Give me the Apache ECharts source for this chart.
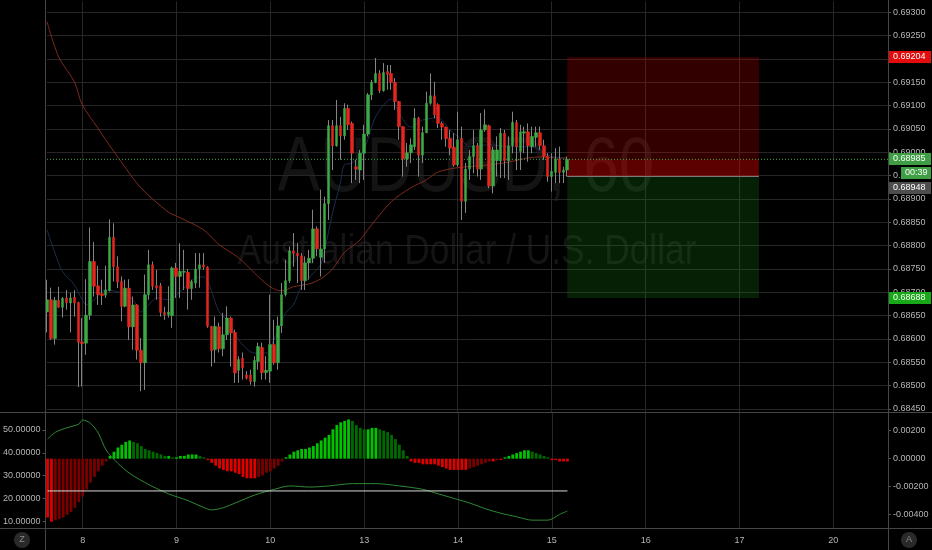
<!DOCTYPE html>
<html><head><meta charset="utf-8">
<script src="https://cdn.jsdelivr.net/npm/echarts@6/dist/echarts.min.js"></script>
<style>html,body{margin:0;padding:0;background:#000;}#c{width:932px;height:550px;}</style>
</head><body><div id="c"></div>
<script>
// ---------- data ----------
const dayLabels = ['8','9','10','13','14','15','16','17','20'];
const firstDayIndex = 9, barsPerDay = 24, totalSlots = 216;

const open = [0.68658,0.68684,0.68601,0.68683,0.68668,0.68688,0.68677,0.68689,0.68678,0.68594,
0.68591,0.68651,0.68766,0.68714,0.68697,0.68694,0.68704,0.68818,0.68755,0.68723,
0.68670,0.68709,0.68626,0.68673,0.68576,0.68549,0.68695,0.68759,0.68714,0.68714,
0.68657,0.68652,0.68650,0.68752,0.68734,0.68743,0.68743,0.68708,0.68720,0.68750,
0.68759,0.68754,0.68627,0.68577,0.68626,0.68579,0.68609,0.68645,0.68614,0.68533,
0.68559,0.68523,0.68523,0.68509,0.68552,0.68582,0.68528,0.68531,0.68588,0.68549,
0.68628,0.68695,0.68725,0.68789,0.68784,0.68778,0.68725,0.68763,0.68773,0.68836,
0.68775,0.68793,0.68890,0.69057,0.69014,0.69057,0.69035,0.69094,0.69062,0.68969,
0.68962,0.68998,0.69039,0.69123,0.69150,0.69169,0.69132,0.69173,0.69169,0.69150,
0.69109,0.69055,0.68986,0.68999,0.69012,0.69073,0.68994,0.69042,0.69105,0.69121,
0.69102,0.69062,0.69054,0.69030,0.69011,0.68973,0.69030,0.68895,0.68964,0.68991,
0.69014,0.68964,0.69048,0.69057,0.68928,0.68982,0.68982,0.69041,0.68982,0.69014,
0.69064,0.69002,0.69041,0.69044,0.69012,0.69032,0.69042,0.69014,0.68992,0.68948,
0.68957,0.68985,0.68957,0.68962];
const close = [0.68684,0.68601,0.68683,0.68668,0.68687,0.68678,0.68688,0.68677,0.68593,0.68590,
0.68651,0.68766,0.68713,0.68695,0.68693,0.68705,0.68818,0.68755,0.68722,0.68670,
0.68709,0.68626,0.68673,0.68576,0.68549,0.68695,0.68759,0.68713,0.68709,0.68657,
0.68652,0.68658,0.68752,0.68734,0.68745,0.68745,0.68708,0.68723,0.68750,0.68759,
0.68754,0.68627,0.68575,0.68627,0.68579,0.68609,0.68645,0.68613,0.68527,0.68556,
0.68538,0.68516,0.68509,0.68554,0.68584,0.68528,0.68533,0.68588,0.68549,0.68628,
0.68695,0.68725,0.68789,0.68784,0.68778,0.68725,0.68763,0.68773,0.68836,0.68793,
0.68793,0.68890,0.69057,0.69014,0.69057,0.69035,0.69094,0.69059,0.68998,0.68964,
0.68998,0.69039,0.69123,0.69150,0.69169,0.69132,0.69171,0.69167,0.69150,0.69109,
0.69055,0.68986,0.68999,0.69016,0.69073,0.68994,0.69042,0.69105,0.69121,0.69080,
0.69062,0.69054,0.69029,0.69009,0.68973,0.69027,0.68895,0.68964,0.68991,0.69014,
0.68964,0.69048,0.69059,0.68928,0.69005,0.69005,0.69041,0.68982,0.69014,0.69064,
0.69012,0.69044,0.69044,0.69014,0.69034,0.69042,0.69014,0.68991,0.68948,0.68959,
0.68985,0.68957,0.68962,0.68985];
const high = [0.68727,0.68710,0.68690,0.68712,0.68690,0.68705,0.68699,0.68705,0.68680,0.68645,
0.68728,0.68839,0.68808,0.68757,0.68727,0.68757,0.68856,0.68848,0.68777,0.68734,
0.68727,0.68728,0.68691,0.68675,0.68602,0.68738,0.68791,0.68766,0.68748,0.68720,
0.68669,0.68713,0.68755,0.68763,0.68805,0.68791,0.68750,0.68727,0.68784,0.68784,
0.68784,0.68756,0.68628,0.68648,0.68635,0.68656,0.68670,0.68648,0.68620,0.68563,
0.68571,0.68531,0.68534,0.68563,0.68592,0.68592,0.68563,0.68695,0.68641,0.68648,
0.68720,0.68770,0.68798,0.68827,0.68806,0.68784,0.68777,0.68791,0.68877,0.68841,
0.68920,0.68905,0.69069,0.69069,0.69112,0.69076,0.69105,0.69102,0.69066,0.68984,
0.69005,0.69059,0.69127,0.69155,0.69202,0.69176,0.69191,0.69187,0.69187,0.69159,
0.69110,0.69056,0.69020,0.69030,0.69094,0.69076,0.69055,0.69130,0.69169,0.69151,
0.69105,0.69066,0.69055,0.69048,0.69041,0.69087,0.69055,0.68977,0.69005,0.69048,
0.69020,0.69084,0.69092,0.69059,0.69012,0.69034,0.69052,0.69048,0.69034,0.69087,
0.69069,0.69059,0.69055,0.69062,0.69055,0.69055,0.69055,0.69027,0.68998,0.68998,
0.69009,0.69012,0.68969,0.68991];
const low = [0.68614,0.68598,0.68588,0.68667,0.68646,0.68663,0.68614,0.68648,0.68497,0.68498,
0.68566,0.68641,0.68691,0.68673,0.68673,0.68688,0.68702,0.68723,0.68709,0.68638,
0.68668,0.68598,0.68577,0.68556,0.68488,0.68491,0.68684,0.68705,0.68684,0.68648,
0.68641,0.68646,0.68624,0.68688,0.68688,0.68705,0.68663,0.68684,0.68709,0.68710,
0.68748,0.68624,0.68541,0.68549,0.68571,0.68563,0.68598,0.68541,0.68506,0.68506,
0.68513,0.68513,0.68502,0.68498,0.68534,0.68513,0.68513,0.68506,0.68545,0.68534,
0.68613,0.68691,0.68720,0.68755,0.68720,0.68705,0.68705,0.68727,0.68763,0.68777,
0.68734,0.68763,0.68855,0.68962,0.69012,0.68984,0.69027,0.69048,0.68934,0.68941,
0.68934,0.68941,0.69034,0.69112,0.69148,0.69127,0.69130,0.69134,0.69134,0.69091,
0.69027,0.68948,0.68969,0.68977,0.69005,0.68948,0.68977,0.69041,0.69102,0.69073,
0.69052,0.69027,0.69012,0.68994,0.68969,0.68969,0.68855,0.68870,0.68941,0.68955,
0.68948,0.68941,0.69044,0.68923,0.68912,0.68948,0.68945,0.68945,0.68941,0.68998,
0.68962,0.68962,0.68998,0.68980,0.68998,0.69012,0.69005,0.68984,0.68937,0.68916,
0.68934,0.68934,0.68934,0.68948];

// moving averages: [bar index, price]
const maFast = [[0,0.68834],[2,0.68785],[4,0.68744],[7,0.68716],[9,0.68684],[10,0.68673],[12,0.68684],[15,0.68705],[19,0.68699],[22,0.68684],[24,0.68658],[26,0.68673],[28,0.68688],[31,0.68684],[34,0.68701],[38,0.68731],[40,0.68733],[44,0.68658],[46,0.68641],[49,0.68598],[53,0.68570],[56,0.68570],[58,0.68598],[61,0.68656],[63,0.68673],[65,0.68712],[68,0.68740],[70,0.68760],[71,0.68791],[73,0.68870],[75,0.68934],[76,0.68973],[78,0.68977],[81,0.69005],[84,0.69076],[88,0.69114],[90,0.69084],[93,0.69054],[96,0.69069],[100,0.69074],[103,0.69048],[106,0.69027],[108,0.69012],[113,0.69016],[118,0.69012],[124,0.69012],[128,0.68994],[131,0.68988],[133,0.68984]];
const maSlow = [[0,0.69280],[3,0.69204],[7,0.69151],[9,0.69102],[13,0.69052],[15,0.69027],[19,0.68979],[24,0.68924],[31,0.68872],[34,0.68860],[40,0.68834],[44,0.68802],[49,0.68774],[53,0.68742],[57,0.68712],[60,0.68703],[63,0.68712],[67,0.68718],[70,0.68729],[73,0.68750],[76,0.68785],[80,0.68812],[82,0.68834],[88,0.68894],[93,0.68924],[97,0.68941],[100,0.68958],[105,0.68967],[113,0.68973],[118,0.68979],[123,0.68988],[126,0.68990],[130,0.68988],[133,0.68988]];

// lower pane
const histogram = [-0.0042,-0.0045,-0.0044,-0.0043,-0.0042,-0.0040,-0.0038,-0.0035,-0.0031,-0.0027,
-0.0022,-0.0017,-0.0013,-0.0009,-0.0005,-0.0002,0.0002,0.0005,0.0008,0.0010,
0.0012,0.0013,0.0012,0.0011,0.0009,0.0007,0.0006,0.0005,0.0004,0.0003,
0.0002,0.0002,0.0001,0.0001,0.0002,0.0002,0.0003,0.0003,0.0003,0.0002,
0.0001,-0.0001,-0.0003,-0.0005,-0.0007,-0.0008,-0.0009,-0.0009,-0.0010,-0.0011,
-0.0013,-0.0014,-0.0014,-0.0014,-0.0013,-0.0012,-0.0010,-0.0009,-0.0007,-0.0005,
-0.0002,0.0001,0.0003,0.0005,0.0006,0.0007,0.0007,0.0008,0.0009,0.0011,
0.0013,0.0015,0.0017,0.0021,0.0024,0.0026,0.0027,0.0028,0.0027,0.0024,
0.0022,0.0021,0.0021,0.0022,0.0022,0.0021,0.0020,0.0019,0.0017,0.0014,
0.0010,0.0006,0.0002,-0.0002,-0.0003,-0.0003,-0.0004,-0.0004,-0.0004,-0.0004,
-0.0005,-0.0006,-0.0007,-0.0008,-0.0008,-0.0008,-0.0008,-0.0008,-0.0007,-0.0006,
-0.0005,-0.0004,-0.0003,-0.0002,-0.0002,-0.0001,-0.0001,0.0001,0.0002,0.0003,
0.0004,0.0005,0.0006,0.0006,0.0005,0.0004,0.0003,0.0002,0.0001,-0.0001,
-0.0001,-0.0002,-0.0002,-0.0002];
const oscLine = [[0,46],[2,49],[5,51],[8,52.6],[9,54.4],[11,52.9],[13,48.6],[15,41.2],[18,35.4],[21,31],[26,26],[31,22],[36,19],[40,16],[42,15],[45,16],[48,18],[53,21.5],[58,24],[62,25.5],[67,25],[72,25.5],[78,26.5],[84,26.5],[90,25.5],[96,24],[100,22],[104,20],[108,18],[112,15.5],[116,13.5],[120,12],[124,10.5],[128,10.5],[131,13],[133,14.5]];
const oscLevel = 23.3;

// position tool
const stopPrice = 0.69204, entryPrice = 0.68948, targetPrice = 0.68688;
const positionStart = 133, positionEnd = 182;
const countdown = '00:39';

// ---------- build ----------
const GREEN = '#3dab45', RED = '#e5261f', WICK = '#858585';
const TXT = '#b6b6b6', GRID = '#262626';
const FONT = 'Liberation Sans';
const dayAt = {};
dayLabels.forEach((d, i) => { dayAt[firstDayIndex + i * barsPerDay] = d; });
const categories = [];
for (let i = 0; i < totalSlots; i++) categories.push('h' + i);
const isDay = (idx) => dayAt[idx] !== undefined;

const wickData = open.map((o, i) => [o, close[i], low[i], high[i]]);
const bodyData = open.map((o, i) => [o, close[i], Math.min(o, close[i]), Math.max(o, close[i])]);
const lastClose = close[close.length - 1];

const histData = histogram.map((v, i) => {
  const prev = i > 0 ? histogram[i - 1] : v;
  let c;
  if (v >= 0) c = (i === 0 || v >= prev) ? '#00c400' : '#006a00';
  else c = (i === 0 || v <= prev) ? '#e00000' : '#7a0000';
  return { value: v, itemStyle: { color: c } };
});

const fmt5 = (v) => Number(v).toFixed(5);
const xBase = (gi, showLabels) => ({
  type: 'category', gridIndex: gi, data: categories, boundaryGap: false,
  axisLine: { show: false }, axisTick: { show: false },
  axisLabel: { show: showLabels, interval: (i) => isDay(i), formatter: (v, i) => dayAt[i] || '',
               color: TXT, fontSize: 9, fontFamily: FONT, margin: 8 },
  splitLine: { show: true, interval: (i) => isDay(i), lineStyle: { color: GRID, width: 1 } }
});

const option = {
  backgroundColor: '#000',
  animation: false,
  grid: [
    { left: 47, width: 841, top: 0, height: 412 },
    { left: 47, width: 841, top: 412, height: 116 }
  ],
  xAxis: [ xBase(0, false), xBase(1, true) ],
  yAxis: [
    { type: 'value', gridIndex: 0, position: 'right', min: 0.684436, max: 0.693263, splitNumber: 17,
      axisLine: { show: false }, axisTick: { show: true, length: 3, lineStyle: { color: '#555' } },
      axisLabel: { formatter: fmt5, color: TXT, fontSize: 9, fontFamily: FONT, margin: 5, showMinLabel: false, showMaxLabel: false },
      splitLine: { show: true, lineStyle: { color: GRID, width: 1 } } },
    { type: 'value', gridIndex: 1, position: 'left', offset: 2, min: 7.06, max: 57.89, splitNumber: 5,
      axisLine: { show: false }, axisTick: { show: true, length: 3, lineStyle: { color: '#555' } },
      axisLabel: { formatter: fmt5, color: TXT, fontSize: 9, fontFamily: FONT, margin: 5, showMinLabel: false, showMaxLabel: false },
      splitLine: { show: false } },
    { type: 'value', gridIndex: 1, position: 'right', min: -0.00495, max: 0.003336, splitNumber: 4,
      axisLine: { show: false }, axisTick: { show: true, length: 3, lineStyle: { color: '#555' } },
      axisLabel: { formatter: fmt5, color: TXT, fontSize: 9, fontFamily: FONT, margin: 5, showMinLabel: false, showMaxLabel: false },
      splitLine: { show: false } }
  ],
  series: [
    { type: 'line', xAxisIndex: 0, yAxisIndex: 0, data: maSlow, showSymbol: false, smooth: 0.3, z: 1,
      lineStyle: { color: '#7d2a1c', width: 1 } },
    { type: 'line', xAxisIndex: 0, yAxisIndex: 0, data: maFast, showSymbol: false, smooth: 0.3, z: 1,
      lineStyle: { color: '#1b2c4e', width: 1 } },
    { type: 'line', xAxisIndex: 0, yAxisIndex: 0, data: [[0, lastClose], [totalSlots - 1, lastClose]], showSymbol: false, z: 2,
      lineStyle: { color: '#3dab45', type: [1, 2], width: 1 } },
    { type: 'candlestick', name: 'wick', xAxisIndex: 0, yAxisIndex: 0, data: wickData, barWidth: 0.5, clip: false, z: 3,
      itemStyle: { color: WICK, color0: WICK, borderColor: WICK, borderColor0: WICK, borderWidth: 1 } },
    { type: 'candlestick', name: 'body', xAxisIndex: 0, yAxisIndex: 0, data: bodyData, barWidth: 3, clip: false, z: 4,
      itemStyle: { color: GREEN, color0: RED, borderColor: GREEN, borderColor0: RED, borderWidth: 0.5 },
      markLine: { silent: true, symbol: ['none', 'none'], label: { show: false }, animation: false,
        data: [
          [ { coord: [positionStart, entryPrice], lineStyle: { color: '#7a7a7a', type: 'solid', width: 1 } },
            { coord: [positionEnd, entryPrice] } ]
        ] },
      markArea: { silent: true,
        data: [
          [ { coord: [positionStart, stopPrice], itemStyle: { color: 'rgba(255,0,0,0.2)' } }, { coord: [positionEnd, lastClose] } ],
          [ { coord: [positionStart, lastClose], itemStyle: { color: 'rgba(255,0,0,0.36)' } }, { coord: [positionEnd, entryPrice] } ],
          [ { coord: [positionStart, entryPrice], itemStyle: { color: 'rgba(20,140,20,0.23)' } }, { coord: [positionEnd, targetPrice] } ]
        ] } },
    { type: 'bar', xAxisIndex: 1, yAxisIndex: 2, data: histData, barWidth: 2.8, z: 2 },
    { type: 'line', xAxisIndex: 1, yAxisIndex: 1, data: oscLine, showSymbol: false, smooth: 0.3, z: 3,
      lineStyle: { color: '#2f8a34', width: 1 } },
    { type: 'line', xAxisIndex: 1, yAxisIndex: 1, data: [[0, oscLevel], [open.length - 1, oscLevel]], showSymbol: false, z: 3,
      lineStyle: { color: '#d8d8d8', width: 1 } }
  ]
};

const chart = echarts.init(document.getElementById('c'), null, { renderer: 'canvas' });
chart.setOption(option);

const yPix = (p) => chart.convertToPixel({ yAxisIndex: 0 }, p);
function tag(yc, text, bg, x, w) {
  return { type: 'group', z: 100, children: [
    { type: 'rect', shape: { x: x, y: Math.round(yc) - 6, width: w, height: 12 }, style: { fill: bg }, z: 100 },
    { type: 'text', x: x + 4, y: Math.round(yc), z: 101,
      style: { text: text, fill: '#ffffff', font: '9px "' + FONT + '"', verticalAlign: 'middle', align: 'left' } }
  ] };
}
const lineCol = '#454545';
const graphics = [
  { type: 'text', x: 466, y: 169, scaleX: 0.82, z: -1,
    style: { text: 'AUDUSD, 60', fill: '#141414', font: '78px "' + FONT + '"', align: 'center', verticalAlign: 'middle' } },
  { type: 'text', x: 467, y: 252, scaleX: 0.84, z: -1,
    style: { text: 'Australian Dollar / U.S. Dollar', fill: '#141414', font: '42px "' + FONT + '"', align: 'center', verticalAlign: 'middle' } },
  { type: 'rect', shape: { x: 46, y: 0, width: 842, height: 1.5 }, style: { fill: '#000' }, z: 90 },
  { type: 'rect', shape: { x: 889, y: 412.5, width: 43, height: 7 }, style: { fill: '#000' }, z: 90 },
  { type: 'line', shape: { x1: 0, y1: 412.5, x2: 932, y2: 412.5 }, style: { stroke: lineCol, lineWidth: 1 }, z: 95 },
  { type: 'line', shape: { x1: 0, y1: 528.5, x2: 932, y2: 528.5 }, style: { stroke: lineCol, lineWidth: 1 }, z: 95 },
  { type: 'line', shape: { x1: 45.5, y1: 0, x2: 45.5, y2: 550 }, style: { stroke: lineCol, lineWidth: 1 }, z: 95 },
  { type: 'line', shape: { x1: 888.5, y1: 0, x2: 888.5, y2: 550 }, style: { stroke: lineCol, lineWidth: 1 }, z: 95 },
  tag(yPix(stopPrice), fmt5(stopPrice), '#e30b0b', 889, 42),
  tag(yPix(lastClose), fmt5(lastClose), '#3e9e44', 889, 42),
  tag(yPix(lastClose) + 14, countdown, '#3e9e44', 901, 30),
  tag(yPix(entryPrice) + 11, fmt5(entryPrice), '#4d4d4d', 889, 42),
  tag(yPix(targetPrice), fmt5(targetPrice), '#17a917', 889, 42),
  { type: 'circle', shape: { cx: 22, cy: 540, r: 8 }, style: { fill: '#2a2a2a' }, z: 100 },
  { type: 'text', x: 22, y: 540, z: 101, style: { text: 'Z', fill: '#8a8a8a', font: '9px "' + FONT + '"', align: 'center', verticalAlign: 'middle' } },
  { type: 'circle', shape: { cx: 909, cy: 540, r: 8 }, style: { fill: '#2a2a2a' }, z: 100 },
  { type: 'text', x: 909, y: 540, z: 101, style: { text: 'A', fill: '#8a8a8a', font: '9px "' + FONT + '"', align: 'center', verticalAlign: 'middle' } }
];
chart.setOption({ graphic: graphics });
</script></body></html>
